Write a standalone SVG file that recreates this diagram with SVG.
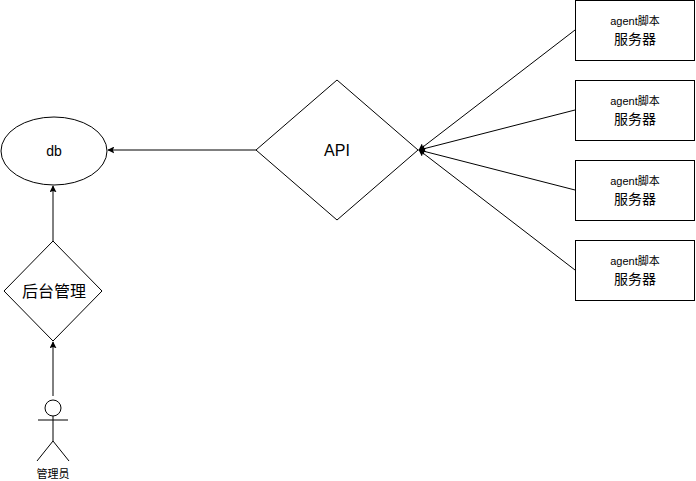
<svg xmlns="http://www.w3.org/2000/svg" width="696" height="481" viewBox="0 0 696 481">
<style>
.s{fill:#fff;stroke:#000;stroke-width:1}
.l{fill:none;stroke:#000;stroke-width:1}
text{font-family:"Liberation Sans","Noto Sans CJK SC",sans-serif;fill:#000;text-anchor:middle}
</style>
<defs>
<marker id="a" viewBox="0 0 10 10" refX="9" refY="5" markerWidth="7" markerHeight="7" orient="auto" markerUnits="userSpaceOnUse"><path d="M0,0L10,5L0,10L2,5z" fill="#000"/></marker>
</defs>
<rect width="696" height="481" fill="#fff"/>
<g id="db"><ellipse class="s" cx="54" cy="151" rx="53" ry="34"/><text x="54" y="156" font-size="14">db</text></g>
<g id="api"><path class="s" d="M337,80L418,150L337,220L256,150z"/><text x="337" y="156" font-size="16">API</text></g>
<g id="admin"><path class="s" d="M53,241L102,291L53,341L4,291z"/><text x="54" y="297" font-size="16">后台管理</text></g>
<g id="agent1"><rect class="s" x="575.5" y="0.5" width="119" height="60"/><text x="635" y="25" font-size="11">agent脚本</text><text x="635" y="44" font-size="14">服务器</text></g>
<g id="agent2"><rect class="s" x="575.5" y="80.5" width="119" height="60"/><text x="635" y="105" font-size="11">agent脚本</text><text x="635" y="124" font-size="14">服务器</text></g>
<g id="agent3"><rect class="s" x="575.5" y="160.5" width="119" height="60"/><text x="635" y="185" font-size="11">agent脚本</text><text x="635" y="204" font-size="14">服务器</text></g>
<g id="agent4"><rect class="s" x="575.5" y="240.5" width="119" height="60"/><text x="635" y="265" font-size="11">agent脚本</text><text x="635" y="284" font-size="14">服务器</text></g>
<g id="actor"><circle class="s" cx="53" cy="408" r="8"/><path class="l" d="M53,416V441M38,420H68M53,441L37,461M53,441L69,461"/><text x="53" y="478" font-size="11">管理员</text></g>
<g id="connectors" class="l">
<line x1="256" y1="150" x2="108" y2="150" marker-end="url(#a)"/>
<line x1="53" y1="241" x2="53" y2="186" marker-end="url(#a)"/>
<line x1="53" y1="396" x2="53" y2="342" marker-end="url(#a)"/>
<line x1="575" y1="30" x2="419" y2="150" marker-end="url(#a)"/>
<line x1="575" y1="110" x2="419" y2="150" marker-end="url(#a)"/>
<line x1="575" y1="190" x2="419" y2="150" marker-end="url(#a)"/>
<line x1="575" y1="270" x2="419" y2="150" marker-end="url(#a)"/>
</g>
</svg>
